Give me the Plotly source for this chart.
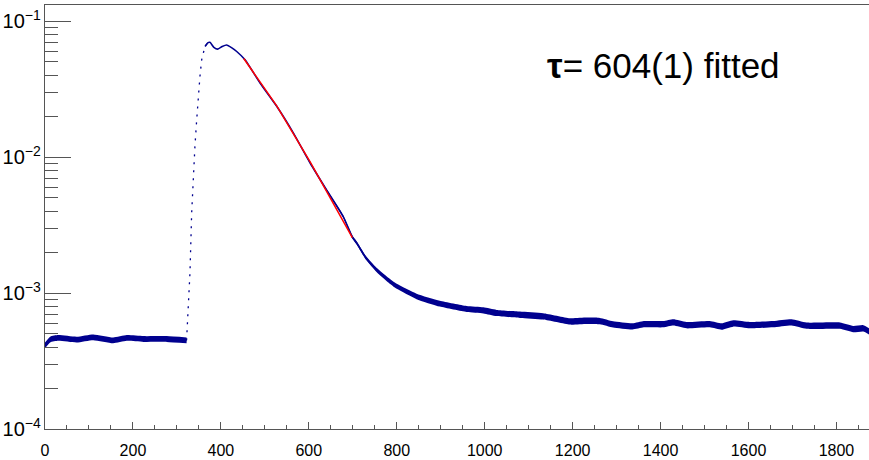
import numpy as np
import plotly.graph_objects as go

NAVY = "#00008f"
RED = "#ff0000"
AXIS = "#555555"

# Pre-trigger baseline
base_x = [0, 12, 30, 72, 110, 155, 186, 224, 277, 322]
base_y = [4.12e-4, 4.55e-4, 4.67e-4, 4.54e-4, 4.72e-4, 4.48e-4, 4.67e-4, 4.59e-4, 4.59e-4, 4.48e-4]
base_err = [0.05] * len(base_x)

# Leading edge (sparse bins)
rise_x = [322, 324, 326, 328, 329.7, 333.6, 337.2, 341, 345, 348.6, 352.4, 356.3, 363.8, 370, 375]
rise_y = [4.5e-4, 6.0e-4, 8.0e-4, 1.0e-3, 1.41e-3, 3.89e-3, 7.67e-3, 0.0120, 0.0188, 0.0279,
          0.0392, 0.0519, 0.065, 0.0690, 0.0697]

# Peak, decay and long tail
decay_x = [364, 370, 375, 384, 393, 403, 413, 425, 436, 455, 489, 527, 565, 603, 640, 678, 699,
           709, 730, 754, 780, 800, 845, 898, 959, 997, 1027, 1080, 1133, 1194, 1232, 1262, 1292,
           1336, 1362, 1406, 1429, 1459, 1512, 1539, 1565, 1603, 1656, 1698, 1732, 1808, 1838,
           1861, 1874]
decay_y = [0.065, 0.0690, 0.0697, 0.0640, 0.0622, 0.0650, 0.0667, 0.0635, 0.0597, 0.0519, 0.0350,
           0.0236, 0.0150, 0.00904, 0.00575, 0.00366, 0.00258, 0.00233, 0.00181, 0.00148, 0.00125,
           0.00112, 0.000944, 0.000834, 0.000762, 0.000745, 0.000713, 0.000692, 0.000673,
           0.000618, 0.000625, 0.000622, 0.000588, 0.000568, 0.000590, 0.000590, 0.000608,
           0.000580, 0.000590, 0.000567, 0.000597, 0.000580, 0.000590, 0.000608, 0.000575,
           0.000575, 0.000543, 0.000550, 0.000523]
decay_err = [0.0, 0.0, 0.0, 0.0, 0.0, 0.0, 0.0, 0.0, 0.0, 0.0, 0.003, 0.005, 0.008, 0.010, 0.015,
             0.020, 0.025, 0.028, 0.032, 0.036, 0.040, 0.043, 0.047, 0.050, 0.052, 0.053, 0.054,
             0.055, 0.055, 0.055, 0.055, 0.055, 0.055, 0.055, 0.055, 0.055, 0.055, 0.055, 0.055,
             0.055, 0.055, 0.055, 0.055, 0.055, 0.055, 0.055, 0.055, 0.055, 0.055]

# Exponential fit over the decay
fit_x = [452, 527, 603, 699]
fit_y = [0.0530, 0.0238, 0.0092, 0.00255]

label_text = "<b>τ</b>= 604(1) fitted"

FONT = "Liberation Sans, Arial, Helvetica"

fig = go.Figure()


def add_band(x, y, err):
    y = np.asarray(y, dtype=float)
    e = np.asarray(err, dtype=float)
    hi = y * (1 + e)
    lo = y / (1 + e)
    smooth = dict(shape="spline", smoothing=0.5)
    fig.add_trace(go.Scatter(x=x, y=hi, mode="lines", line=dict(width=0, color=NAVY, **smooth),
                             hoverinfo="skip", showlegend=False))
    fig.add_trace(go.Scatter(x=x, y=lo, mode="lines", line=dict(width=0, color=NAVY, **smooth),
                             fill="tonexty", fillcolor=NAVY, hoverinfo="skip", showlegend=False))
    fig.add_trace(go.Scatter(x=x, y=y, mode="lines", line=dict(width=1.6, color=NAVY, **smooth),
                             showlegend=False))


add_band(base_x, base_y, base_err)
fig.add_trace(go.Scatter(x=rise_x, y=rise_y, mode="lines",
                         line=dict(width=1.3, color=NAVY, dash="2px,6px"), showlegend=False))
add_band(decay_x, decay_y, decay_err)
fig.add_trace(go.Scatter(x=fit_x, y=fit_y, mode="lines", line=dict(width=1.5, color=RED),
                         showlegend=False))

fig.add_annotation(text=label_text, xref="paper", yref="paper", x=0.607, y=0.858,
                   xanchor="left", yanchor="middle", showarrow=False,
                   font=dict(family=FONT, size=35, color="black"))

fig.update_xaxes(range=[0, 1874], showgrid=False, zeroline=False,
                 showline=True, mirror=True, linecolor=AXIS, linewidth=1,
                 ticks="inside", ticklen=7, tickcolor=AXIS, dtick=200, tick0=0,
                 ticklabelstandoff=7,
                 minor=dict(ticks="inside", ticklen=4, dtick=50, tickcolor=AXIS, showgrid=False),
                 tickfont=dict(family=FONT, size=16, color="black"))
fig.update_yaxes(type="log", range=[-4, -0.882], showgrid=False, zeroline=False,
                 showline=True, linecolor=AXIS, linewidth=1,
                 ticks="inside", ticklen=26, tickcolor=AXIS, dtick=1,
                 exponentformat="power",
                 minor=dict(ticks="inside", ticklen=13, dtick="D1", tickcolor=AXIS, showgrid=False),
                 tickfont=dict(family=FONT, size=16, color="black"))

fig.update_layout(width=869, height=460, margin=dict(l=45, r=0, t=5, b=31),
                  plot_bgcolor="white", paper_bgcolor="white")

fig.write_html("out.html")
